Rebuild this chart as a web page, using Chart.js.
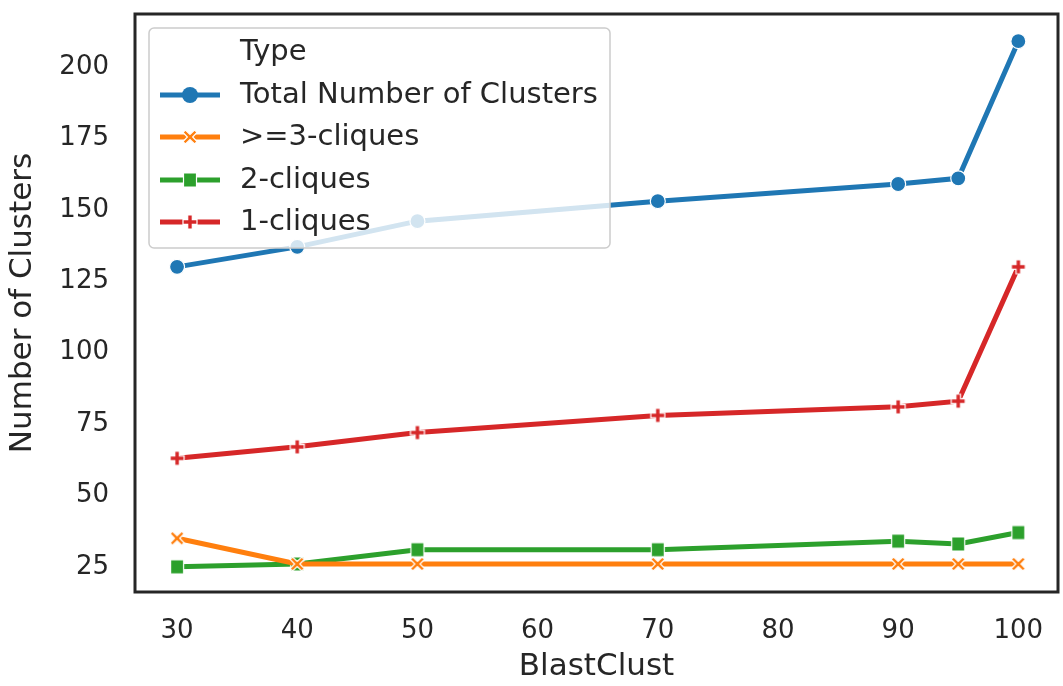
<!DOCTYPE html>
<html>
<head>
<meta charset="utf-8">
<script src="https://cdn.jsdelivr.net/npm/chart.js@4.4.1/dist/chart.umd.min.js"></script>
<style>
  html, body { margin: 0; padding: 0; background: #fff; }
  #wrap { width: 1063px; height: 686px; }
</style>
</head>
<body>
<div id="wrap"><canvas id="chart" width="1063" height="686"></canvas></div>
<script>
// data
const blastClust = [30, 40, 50, 70, 90, 95, 100];
const totalClusters = [129, 136, 145, 152, 158, 160, 208];
const threeCliques = [34, 25, 25, 25, 25, 25, 25];
const twoCliques = [24, 25, 30, 30, 33, 32, 36];
const oneCliques = [62, 66, 71, 77, 80, 82, 129];
const xTicks = [30, 40, 50, 60, 70, 80, 90, 100];
const yTicks = [25, 50, 75, 100, 125, 150, 175, 200];

const TEXT = "#262626";
const FONT = "DejaVu Sans";

// filled marker shapes (seaborn style X / P / square with white edge)
function makeMarker(kind, color) {
  const s = 18;
  const c = document.createElement("canvas");
  c.width = s; c.height = s;
  const g = c.getContext("2d");
  g.translate(s / 2, s / 2);
  g.beginPath();
  if (kind === "x") {
    const a = 2.4, b = 7;
    g.moveTo(-b, -b + a); g.lineTo(-b + a, -b); g.lineTo(0, -a * 1.1);
    g.lineTo(b - a, -b); g.lineTo(b, -b + a); g.lineTo(a * 1.1, 0);
    g.lineTo(b, b - a); g.lineTo(b - a, b); g.lineTo(0, a * 1.1);
    g.lineTo(-b + a, b); g.lineTo(-b, b - a); g.lineTo(-a * 1.1, 0);
    g.closePath();
  } else if (kind === "p") {
    const a = 2.3, b = 7;
    g.moveTo(-a, -b); g.lineTo(a, -b); g.lineTo(a, -a); g.lineTo(b, -a);
    g.lineTo(b, a); g.lineTo(a, a); g.lineTo(a, b); g.lineTo(-a, b);
    g.lineTo(-a, a); g.lineTo(-b, a); g.lineTo(-b, -a); g.lineTo(-a, -a);
    g.closePath();
  } else {
    g.rect(-6.5, -7, 13, 14);
  }
  g.fillStyle = color;
  g.fill();
  g.lineWidth = 1.2;
  g.strokeStyle = "#ffffff";
  g.stroke();
  return c;
}

const series = [
  { label: "Total Number of Clusters", data: totalClusters, color: "#1f77b4", marker: "circle" },
  { label: ">=3-cliques", data: threeCliques, color: "#ff7f0e", marker: makeMarker("x", "#ff7f0e") },
  { label: "2-cliques", data: twoCliques, color: "#2ca02c", marker: makeMarker("s", "#2ca02c") },
  { label: "1-cliques", data: oneCliques, color: "#d62728", marker: makeMarker("p", "#d62728") }
];

const datasets = series.map((s) => ({
  label: s.label,
  data: blastClust.map((x, i) => ({ x: x, y: s.data[i] })),
  borderColor: s.color,
  backgroundColor: s.color,
  borderWidth: 5,
  pointStyle: s.marker,
  pointRadius: 7.5,
  pointBorderColor: "#ffffff",
  pointBorderWidth: 1.2,
  tension: 0
}));

// frame + semi-transparent legend like matplotlib
const framePlugin = {
  id: "frame",
  afterDraw(chart) {
    const { ctx, chartArea: a } = chart;
    ctx.save();
    ctx.strokeStyle = TEXT;
    ctx.lineWidth = 3;
    ctx.strokeRect(a.left, a.top, a.right - a.left, a.bottom - a.top);

    // legend box
    const lx = 149, ly = 28, lw = 461, lh = 220, r = 5;
    ctx.beginPath();
    ctx.roundRect(lx, ly, lw, lh, r);
    ctx.fillStyle = "rgba(255,255,255,0.8)";
    ctx.fill();
    ctx.lineWidth = 1.5;
    ctx.strokeStyle = "#cccccc";
    ctx.stroke();

    ctx.font = "29px " + FONT;
    ctx.fillStyle = TEXT;
    ctx.textBaseline = "middle";
    ctx.textAlign = "left";
    ctx.fillText("Type", 240, 52);
    const rows = [95, 137, 180, 222];
    series.forEach((s, i) => {
      const y = rows[i];
      ctx.strokeStyle = s.color;
      ctx.lineWidth = 5;
      ctx.beginPath();
      ctx.moveTo(160, y);
      ctx.lineTo(220, y);
      ctx.stroke();
      if (s.marker === "circle") {
        ctx.beginPath();
        ctx.arc(190, y, 8, 0, Math.PI * 2);
        ctx.fillStyle = s.color;
        ctx.fill();
      } else {
        ctx.drawImage(s.marker, 190 - 9, y - 9);
      }
      ctx.fillStyle = TEXT;
      ctx.fillText(s.label, 240, y);
    });
    ctx.restore();
  }
};

new Chart(document.getElementById("chart"), {
  type: "line",
  data: { datasets: datasets },
  options: {
    responsive: false,
    animation: false,
    layout: { autoPadding: false, padding: { top: 14, right: 5, left: 0, bottom: 0 } },
    plugins: { legend: { display: false }, tooltip: { enabled: false } },
    scales: {
      x: {
        type: "linear",
        min: 26.5,
        max: 103.3,
        afterBuildTicks: (sc) => { sc.ticks = xTicks.map((v) => ({ value: v })); },
        afterFit: (sc) => { sc.height = 94; sc.paddingLeft = 0; sc.paddingRight = 0; },
        grid: { display: false, drawTicks: false },
        border: { display: false },
        ticks: { color: TEXT, font: { family: FONT, size: 26 }, padding: 24 },
        title: { display: true, text: "BlastClust", color: TEXT, font: { family: FONT, size: 31 }, padding: { top: 4, bottom: 0 } }
      },
      y: {
        min: 15.2,
        max: 217.5,
        afterBuildTicks: (sc) => { sc.ticks = yTicks.map((v) => ({ value: v })); },
        afterFit: (sc) => { sc.width = 135; sc.paddingTop = 0; sc.paddingBottom = 0; },
        grid: { display: false, drawTicks: false },
        border: { display: false },
        ticks: { color: TEXT, font: { family: FONT, size: 26 }, padding: 26, labelOffset: 3 },
        title: { display: true, text: "Number of Clusters", color: TEXT, font: { family: FONT, size: 31 }, padding: { bottom: 4 } }
      }
    }
  },
  plugins: [framePlugin]
});
</script>
</body>
</html>
